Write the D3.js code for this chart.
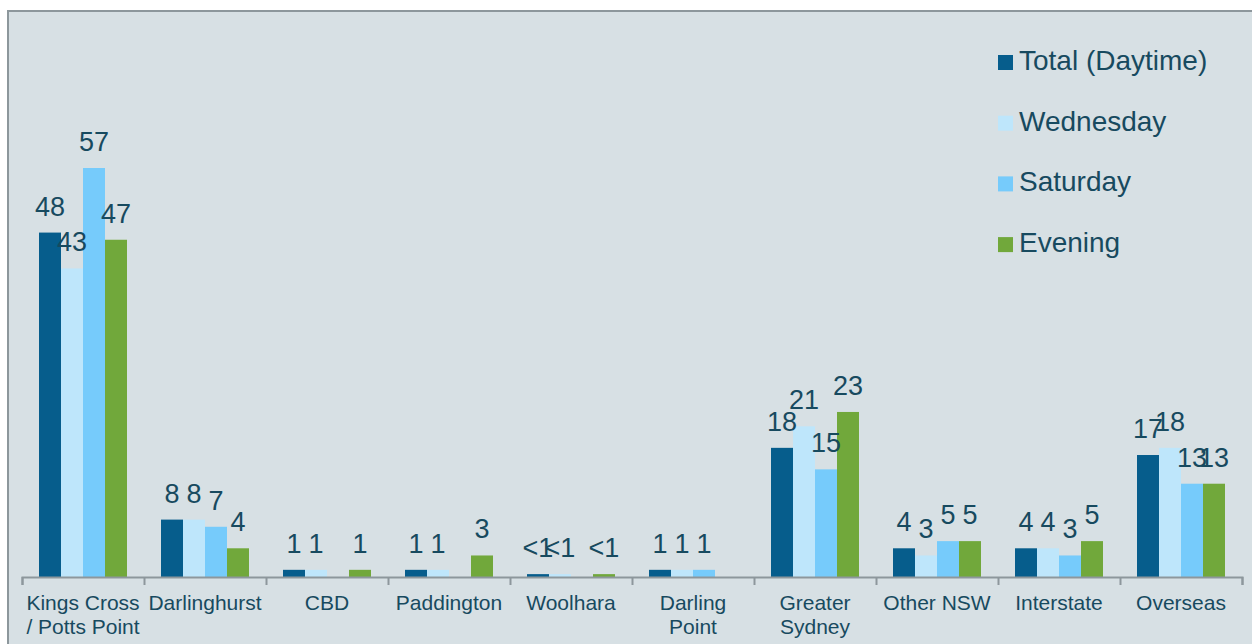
<!DOCTYPE html>
<html>
<head>
<meta charset="utf-8">
<script src="https://cdn.jsdelivr.net/npm/d3@7"></script>
<style>
  body { margin: 0; background: #fff; }
  svg { display: block; font-family: 'Liberation Sans', Arial, sans-serif; }
</style>
</head>
<body>
<svg width="1252" height="644"></svg>
<script>
const CATEGORIES = ['Kings Cross\n/ Potts Point', 'Darlinghurst', 'CBD', 'Paddington', 'Woolhara',
  'Darling\nPoint', 'Greater\nSydney', 'Other NSW', 'Interstate', 'Overseas'];
const SERIES = ['Total (Daytime)', 'Wednesday', 'Saturday', 'Evening'];
const COLORS = ['#065d8c', '#bee6fb', '#76cbfb', '#71a83b'];

// null = no bar shown; 0.4 stands in for the "<1" values
const TOTAL = [48, 8, 1, 1, 0.4, 1, 18, 4, 4, 17];
const WEDNESDAY = [43, 8, 1, 1, 0.4, 1, 21, 3, 4, 18];
const SATURDAY = [57, 7, null, null, null, 1, 15, 5, 3, 13];
const EVENING = [47, 4, 1, 3, 0.4, null, 23, 5, 5, 13];

const TEXT = '#174a5f';
const AXIS = '#8d979c';

const svg = d3.select('svg');
const width = +svg.attr('width');
const height = +svg.attr('height');

// panel background with top / left border
svg.append('rect')
    .attr('x', 7).attr('y', 10)
    .attr('width', width).attr('height', height)
    .attr('fill', '#d7e0e4');
svg.append('path')
    .attr('d', `M8,${height}V11H${width}`)
    .attr('fill', 'none')
    .attr('stroke', AXIS)
    .attr('stroke-width', 2);

const baseY = 577;
const x0 = d3.scaleBand()
    .domain(CATEGORIES)
    .range([22, 1242]);

const x1 = d3.scaleBand()
    .domain(SERIES)
    .range([17, x0.bandwidth() - 17]);

const y = d3.scaleLinear()
    .domain([0, 57])
    .range([baseY, 168]);

const color = d3.scaleOrdinal().domain(SERIES).range(COLORS);

const rows = CATEGORIES.map((c, i) => ({
  name: c,
  values: [TOTAL[i], WEDNESDAY[i], SATURDAY[i], EVENING[i]].map((v, j) => ({ key: SERIES[j], value: v }))
}));

const groups = svg.append('g')
  .selectAll('g')
  .data(rows)
  .enter().append('g')
    .attr('transform', d => `translate(${x0(d.name)},0)`);

groups.selectAll('rect')
  .data(d => d.values.filter(v => v.value !== null))
  .enter().append('rect')
    .attr('x', d => x1(d.key))
    .attr('y', d => y(d.value))
    .attr('width', x1.bandwidth())
    .attr('height', d => baseY - y(d.value))
    .attr('fill', d => color(d.key));

groups.selectAll('text')
  .data(d => d.values.filter(v => v.value !== null))
  .enter().append('text')
    .attr('x', d => x1(d.key) + x1.bandwidth() / 2)
    .attr('y', d => y(d.value) - 17)
    .attr('text-anchor', 'middle')
    .attr('font-size', 27)
    .attr('fill', TEXT)
    .text(d => d.value < 1 ? '<1' : d.value);

// axis line + ticks at category boundaries
const boundary = d3.scaleLinear().domain([0, CATEGORIES.length]).range(x0.range());
const axis = svg.append('g')
    .attr('transform', `translate(0,${baseY})`)
    .call(d3.axisBottom(boundary).ticks(CATEGORIES.length).tickSize(8).tickFormat('').tickSizeOuter(8));
axis.select('.domain').attr('stroke', AXIS).attr('stroke-width', 2);
axis.selectAll('.tick line').attr('stroke', AXIS).attr('stroke-width', 2);

// category labels
const labels = svg.append('g')
  .selectAll('text')
  .data(CATEGORIES)
  .enter().append('text')
    .attr('text-anchor', 'middle')
    .attr('font-size', 21)
    .attr('fill', TEXT);

labels.selectAll('tspan')
  .data(d => d.split('\n').map(line => ({ line, name: d })))
  .enter().append('tspan')
    .attr('x', d => x0(d.name) + x0.bandwidth() / 2)
    .attr('y', (d, i) => 610 + i * 24)
    .text(d => d.line);

// legend
const legend = svg.append('g')
  .selectAll('g')
  .data(SERIES)
  .enter().append('g')
    .attr('transform', (d, i) => `translate(998,${55 + i * 60.7})`);

legend.append('rect')
    .attr('width', 15)
    .attr('height', 15)
    .attr('fill', color);

legend.append('text')
    .attr('x', 21)
    .attr('y', 15)
    .attr('font-size', 28)
    .attr('fill', TEXT)
    .text(d => d);
</script>
</body>
</html>
